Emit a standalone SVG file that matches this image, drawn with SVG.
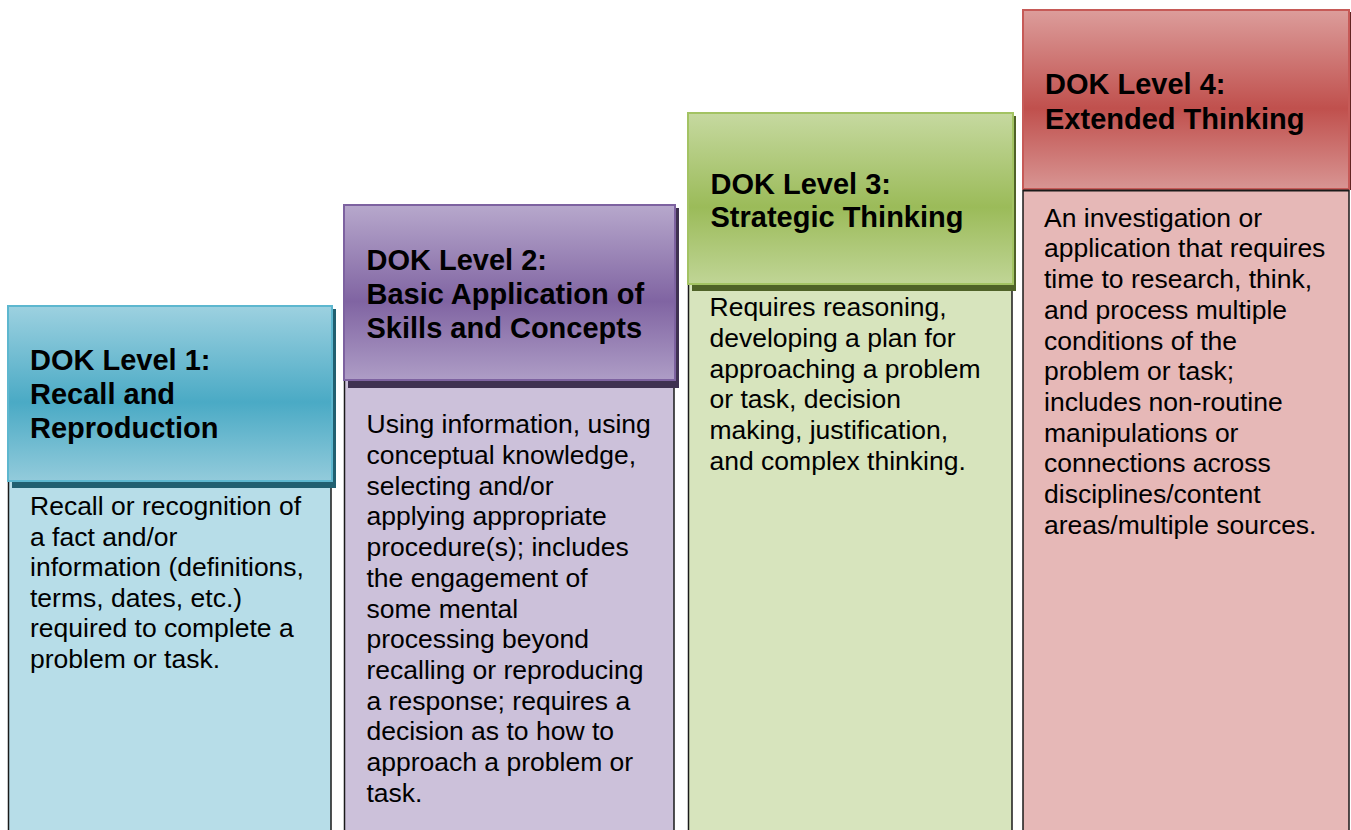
<svg xmlns="http://www.w3.org/2000/svg" width="1351" height="830" viewBox="0 0 1351 830">
<defs>
<linearGradient id="g1" x1="0" y1="0" x2="0" y2="1">
<stop offset="0" stop-color="#9dd1e0"/><stop offset="0.55" stop-color="#4aaac5"/><stop offset="1" stop-color="#93cbdb"/>
</linearGradient>
<linearGradient id="g2" x1="0" y1="0" x2="0" y2="1">
<stop offset="0" stop-color="#b7a8cc"/><stop offset="0.55" stop-color="#8064a2"/><stop offset="1" stop-color="#ae9dc6"/>
</linearGradient>
<linearGradient id="g3" x1="0" y1="0" x2="0" y2="1">
<stop offset="0" stop-color="#c6d9a0"/><stop offset="0.55" stop-color="#9bbb59"/><stop offset="1" stop-color="#c0d596"/>
</linearGradient>
<linearGradient id="g4" x1="0" y1="0" x2="0" y2="1">
<stop offset="0" stop-color="#dc9d9b"/><stop offset="0.55" stop-color="#c0504d"/><stop offset="1" stop-color="#d89593"/>
</linearGradient>
</defs>
<style>
.body{stroke:#1a1a1a;stroke-width:1.5}
.head{stroke-width:2}
.h{font-family:"Liberation Sans",Arial,sans-serif;font-weight:bold;font-size:29px;fill:#000}
.t{font-family:"Liberation Sans",Arial,sans-serif;font-size:26.5px;fill:#000}
</style>
<rect width="1351" height="830" fill="#ffffff"/>

<g id="level1">
<rect class="body" x="8.5" y="480" width="322.5" height="360" fill="#b7dde8"/>
<rect x="12" y="309" width="324" height="179" fill="#215f70"/>
<rect class="head" x="8" y="306" width="324" height="175" fill="url(#g1)" stroke="#5db7cf"/>
<text class="h" x="30"><tspan x="30" y="370">DOK Level 1:</tspan><tspan x="30" y="404">Recall and</tspan><tspan x="30" y="438">Reproduction</tspan></text>
<text class="t"><tspan x="30" y="515">Recall or recognition of</tspan><tspan x="30" y="545.6">a fact and/or</tspan><tspan x="30" y="576.2">information (definitions,</tspan><tspan x="30" y="606.8">terms, dates, etc.)</tspan><tspan x="30" y="637.4">required to complete a</tspan><tspan x="30" y="668">problem or task.</tspan></text>
</g>

<g id="level2">
<rect class="body" x="344.5" y="380" width="329.5" height="460" fill="#ccc1da"/>
<rect x="348" y="208" width="331" height="180" fill="#3f3151"/>
<rect class="head" x="344" y="205" width="331" height="175" fill="url(#g2)" stroke="#7d62a0"/>
<text class="h"><tspan x="366.5" y="269.5">DOK Level 2:</tspan><tspan x="366.5" y="303.5">Basic Application of</tspan><tspan x="366.5" y="337.5">Skills and Concepts</tspan></text>
<text class="t"><tspan x="366.5" y="433.3">Using information, using</tspan><tspan x="366.5" y="464">conceptual knowledge,</tspan><tspan x="366.5" y="494.7">selecting and/or</tspan><tspan x="366.5" y="525.4">applying appropriate</tspan><tspan x="366.5" y="556.1">procedure(s); includes</tspan><tspan x="366.5" y="586.8">the engagement of</tspan><tspan x="366.5" y="617.5">some mental</tspan><tspan x="366.5" y="648.2">processing beyond</tspan><tspan x="366.5" y="678.9">recalling or reproducing</tspan><tspan x="366.5" y="709.6">a response; requires a</tspan><tspan x="366.5" y="740.3">decision as to how to</tspan><tspan x="366.5" y="771">approach a problem or</tspan><tspan x="366.5" y="801.7">task.</tspan></text>
</g>

<g id="level3">
<rect class="body" x="688.5" y="284" width="323.5" height="556" fill="#d7e4bd"/>
<rect x="692" y="116" width="324" height="175" fill="#4f6228"/>
<rect class="head" x="688" y="113" width="325" height="171" fill="url(#g3)" stroke="#a3c363"/>
<text class="h"><tspan x="710.5" y="193.5">DOK Level 3:</tspan><tspan x="710.5" y="227">Strategic Thinking</tspan></text>
<text class="t"><tspan x="709.5" y="316">Requires reasoning,</tspan><tspan x="709.5" y="346.8">developing a plan for</tspan><tspan x="709.5" y="377.6">approaching a problem</tspan><tspan x="709.5" y="408.4">or task, decision</tspan><tspan x="709.5" y="439.2">making, justification,</tspan><tspan x="709.5" y="470">and complex thinking.</tspan></text>
</g>

<g id="level4">
<rect class="body" x="1023" y="190" width="326" height="650" fill="#e6b8b7"/>
<rect x="1027" y="12" width="326" height="178" fill="#632523"/>
<rect class="head" x="1023" y="10" width="326" height="179" fill="url(#g4)" stroke="#c65a57"/>
<line x1="1023" y1="190.5" x2="1349" y2="190.5" stroke="#1a1a1a" stroke-width="2"/>
<text class="h"><tspan x="1045" y="94">DOK Level 4:</tspan><tspan x="1045" y="128.5">Extended Thinking</tspan></text>
<text class="t"><tspan x="1044" y="226.7">An investigation or</tspan><tspan x="1044" y="257.4">application that requires</tspan><tspan x="1044" y="288.1">time to research, think,</tspan><tspan x="1044" y="318.8">and process multiple</tspan><tspan x="1044" y="349.5">conditions of the</tspan><tspan x="1044" y="380.2">problem or task;</tspan><tspan x="1044" y="410.9">includes non-routine</tspan><tspan x="1044" y="441.6">manipulations or</tspan><tspan x="1044" y="472.3">connections across</tspan><tspan x="1044" y="503">disciplines/content</tspan><tspan x="1044" y="533.7">areas/multiple sources.</tspan></text>
</g>

<g id="connectors"></g>
</svg>
